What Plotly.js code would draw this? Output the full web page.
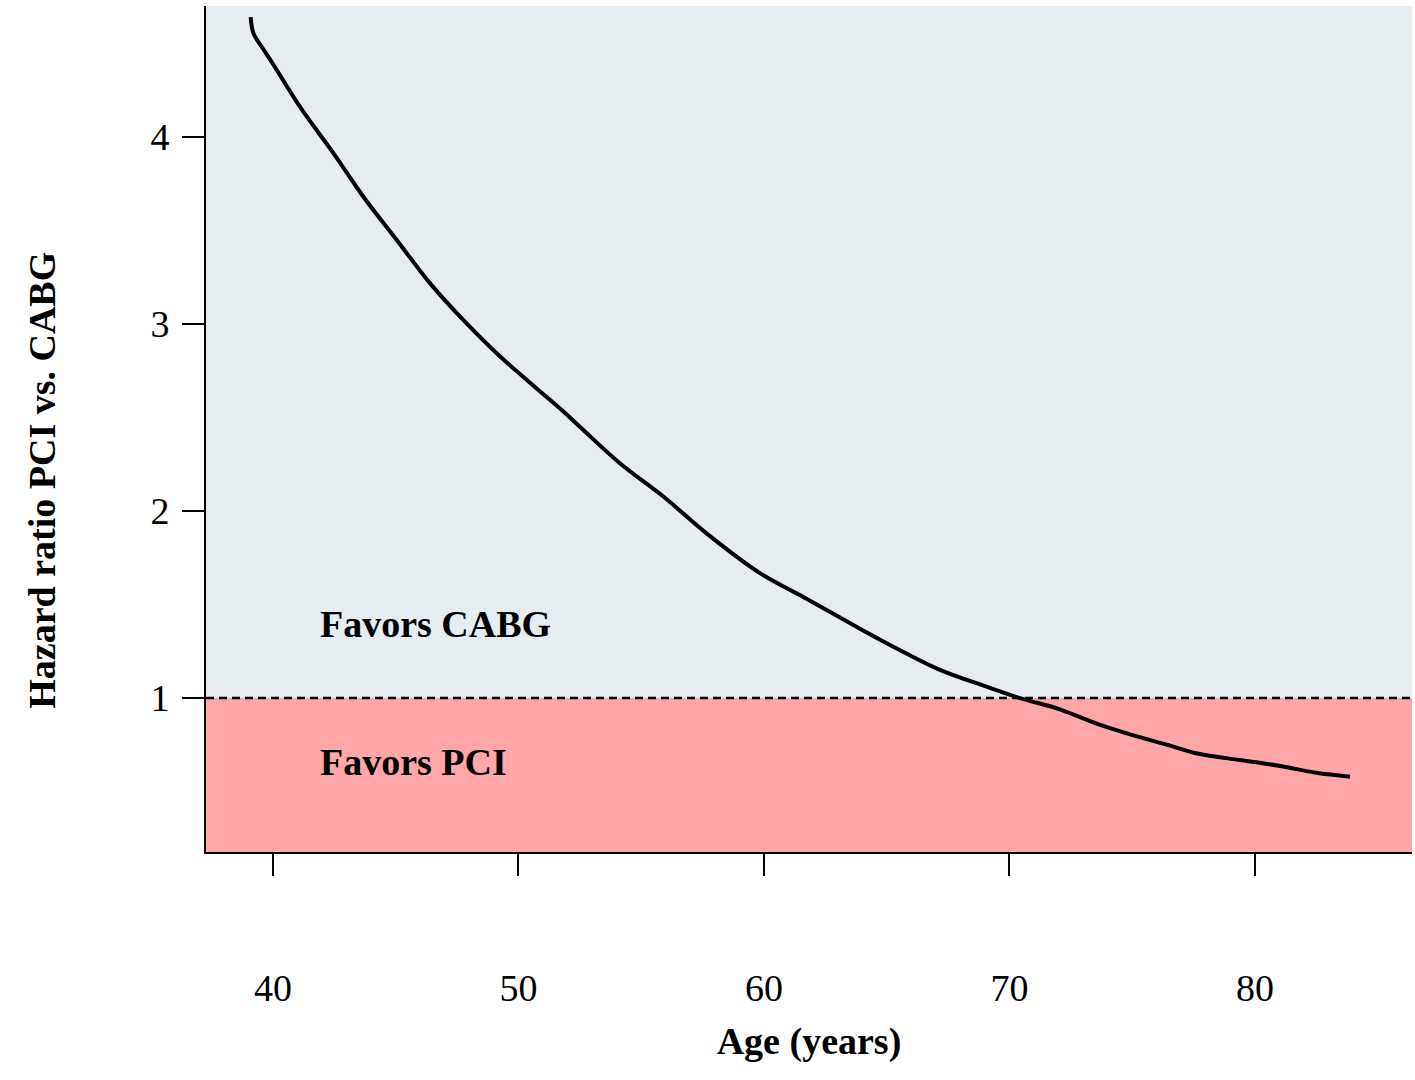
<!DOCTYPE html>
<html>
<head>
<meta charset="utf-8">
<script src="https://cdn.plot.ly/plotly-3.0.1.min.js"></script>
<style>
  html, body { margin: 0; padding: 0; background: #fff; }
  #chart { width: 1415px; height: 1080px; }
</style>
</head>
<body>
<div id="chart"></div>
<script>
// Hazard ratio curve
const ages = [39.09, 39.2, 39.6, 40.0, 41.1, 42.46, 43.68, 45.04, 46.39, 47.75,
    49.11, 50.47, 51.83, 52.5, 54.13, 55.9, 57.66, 59.84, 61.6, 63.64,
    65.27, 67.17, 69.07, 70.4, 71.9, 73.0, 73.7, 75.05, 76.4, 77.6,
    78.85, 80.06, 81.15, 82.5, 83.87];
const hazardRatio = [4.64, 4.555, 4.47, 4.39, 4.16, 3.913, 3.68, 3.449, 3.218, 3.021,
    2.843, 2.685, 2.531, 2.45, 2.255, 2.077, 1.88, 1.667, 1.54, 1.39,
    1.274, 1.15, 1.06, 1.0, 0.945, 0.891, 0.856, 0.80, 0.75, 0.704,
    0.678, 0.656, 0.633, 0.60, 0.579];

const xTicks = [40, 50, 60, 70, 80];
const yTicks = [1, 2, 3, 4];
const xRange = [37.27, 86.4];
const yRange = [0.176, 4.70];
const refLine = 1;

const serif = 'Liberation Serif, Times New Roman, serif';

const trace = {
    x: ages,
    y: hazardRatio,
    type: 'scatter',
    mode: 'lines',
    line: { color: '#000', width: 4, shape: 'spline', smoothing: 1 },
    hoverinfo: 'x+y',
};

const layout = {
    width: 1415,
    height: 1080,
    margin: { l: 206, r: 3, t: 6, b: 228 },
    paper_bgcolor: '#fff',
    plot_bgcolor: '#fff',
    showlegend: false,
    font: { family: serif, size: 38, color: '#000' },
    xaxis: {
        range: xRange,
        tickvals: xTicks,
        ticktext: xTicks.map(String),
        ticks: 'outside',
        ticklen: 22,
        tickwidth: 2,
        tickcolor: '#000',
        ticklabelstandoff: 79,
        showline: true,
        linecolor: '#000',
        linewidth: 2,
        showgrid: false,
        zeroline: false,
        tickfont: { family: serif, size: 38 },
        title: {
            text: 'Age (years)',
            font: { family: serif, size: 38, weight: 'bold' },
            standoff: 20,
        },
    },
    yaxis: {
        range: yRange,
        tickvals: yTicks,
        ticktext: yTicks.map(String),
        ticks: 'outside',
        ticklen: 22,
        tickwidth: 2,
        tickcolor: '#000',
        ticklabelstandoff: 5,
        showline: true,
        linecolor: '#000',
        linewidth: 2,
        showgrid: false,
        zeroline: false,
        tickfont: { family: serif, size: 38 },
    },
    shapes: [
        // favors CABG region
        {
            type: 'rect', layer: 'below', xref: 'paper', yref: 'y',
            x0: 0, x1: 1, y0: refLine, y1: yRange[1],
            fillcolor: '#e6edf1', line: { width: 0 },
        },
        // favors PCI region
        {
            type: 'rect', layer: 'below', xref: 'paper', yref: 'y',
            x0: 0, x1: 1, y0: yRange[0], y1: refLine,
            fillcolor: '#ffa6a6', line: { width: 0 },
        },
        {
            type: 'line', layer: 'below', xref: 'paper', yref: 'y',
            x0: 0, x1: 1, y0: refLine, y1: refLine,
            line: { color: '#000', width: 2.5, dash: '8px,5px' },
        },
    ],
    annotations: [
        {
            text: 'Favors CABG', xref: 'x', yref: 'y', x: 41.85, y: 1.396,
            xanchor: 'left', yanchor: 'middle', showarrow: false,
            font: { family: serif, size: 38, weight: 'bold' },
        },
        {
            text: 'Favors PCI', xref: 'x', yref: 'y', x: 41.85, y: 0.658,
            xanchor: 'left', yanchor: 'middle', showarrow: false,
            font: { family: serif, size: 38, weight: 'bold' },
        },
        {
            text: 'Hazard ratio PCI vs. CABG', xref: 'paper', yref: 'paper',
            x: -0.136, y: 0.44, textangle: -90,
            xanchor: 'center', yanchor: 'middle', showarrow: false,
            font: { family: serif, size: 38, weight: 'bold' },
        },
    ],
};

Plotly.newPlot('chart', [trace], layout, { displayModeBar: false, staticPlot: true });
</script>
</body>
</html>
